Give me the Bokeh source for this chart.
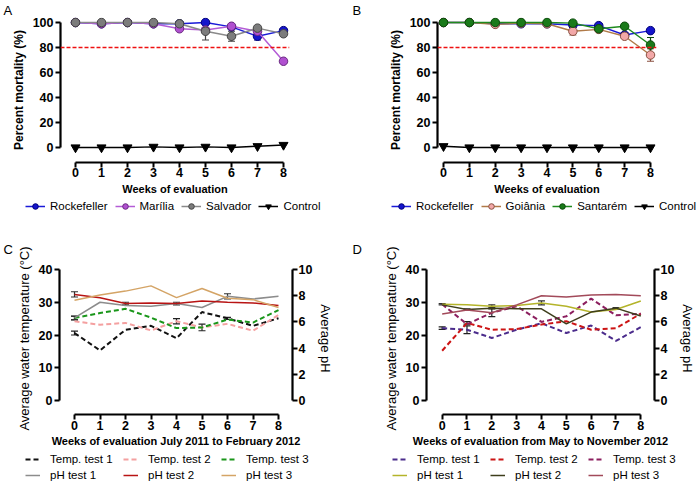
from bokeh.plotting import figure
from bokeh.models import (ColumnDataSource, Whisker, TeeHead, Span, Legend, LegendItem,
                          LinearAxis, Range1d, FixedTicker, Title)
from bokeh.layouts import row, column
from bokeh.embed import file_html
from bokeh.resources import INLINE

FONT = "Liberation Sans"

# ---------------- data ----------------
weeks = [0, 1, 2, 3, 4, 5, 6, 7, 8]

# Panel A
rock_A = [100, 99, 100, 99, 99, 100, 96.5, 89, 93.5]
rock_A_err = [0, 0, 0, 0, 0, 0, 0, 3, 1]
mar_A = [100, 99, 100, 99, 95, 94, 97, 93, 69]
mar_A_err = [0, 0, 0, 0, 0, 0, 0, 0, 0]
sal_A = [100, 100, 100, 100, 99, 93, 89, 95.5, 91]
sal_A_err = [0, 0, 0, 0, 0, 7, 4, 0, 2]
ctl_A = [0, 0, 0, 0.5, 0, 0.5, 0, 1, 2]

# Panel B
rock_B = [100, 100, 99, 99, 99, 98, 97.5, 90, 93.5]
rock_B_err = [0, 0, 0, 0, 0, 0, 0, 2, 0]
goi_B = [100, 100, 98.5, 99.5, 99, 93, 94.5, 89, 74]
goi_B_err = [0, 0, 0, 0, 0, 3, 0, 1, 5]
san_B = [100, 100, 100, 100, 100, 99.5, 95, 97, 82]
san_B_err = [0, 0, 0, 0, 0, 0, 0, 0, 6]
ctl_B = [1, 0, 0, 0, 0, 0, 0, 0, 0]

# Panel C (temperature in °C, pH)
t1_C = [20.6, 15.3, 21.6, 22.8, 19.0, 27.0, 25.1, 22.8, 25.1]
t1_C_err = [0.6, 0, 0, 0, 0, 0, 0.3, 0, 0]
t2_C = [24.2, 23.1, 23.7, 21.4, 24.2, 22.3, 23.4, 21.3, 26.1]
t2_C_err = [0, 0, 0, 0, 0.8, 0, 0, 0, 0]
t3_C = [25.2, 26.7, 28.0, 25.3, 22.1, 22.3, 24.7, 23.8, 27.6]
t3_C_err = [0.6, 0, 0, 0, 0, 1.0, 0, 0, 0]
ph1_C = [6.3, 7.5, 7.25, 7.2, 7.4, 7.1, 7.95, 7.75, 7.95]
ph1_C_err = [0.12, 0, 0, 0, 0.1, 0, 0.2, 0, 0]
ph2_C = [8.1, 7.85, 7.4, 7.45, 7.4, 7.6, 7.5, 7.45, 7.25]
ph2_C_err = [0.2, 0, 0.1, 0, 0, 0, 0, 0, 0]
ph3_C = [7.65, 8.05, 8.35, 8.75, 7.85, 8.55, 7.8, 7.7, 7.1]
ph3_C_err = [0, 0, 0, 0, 0, 0, 0, 0, 0]

# Panel D
t1_D = [22.1, 21.6, 19.1, 21.6, 23.6, 20.6, 22.9, 18.2, 22.4]
t1_D_err = [0.4, 1.2, 0, 0, 0, 0, 0, 0, 0]
t2_D = [15.2, 23.7, 21.6, 21.8, 23.2, 24.2, 21.6, 22.1, 26.5]
t2_D_err = [0, 0.4, 0, 0, 0, 0, 0, 0, 0]
t3_D = [29.4, 23.3, 26.8, 28.8, 24.0, 25.7, 31.1, 26.0, 26.5]
t3_D_err = [0, 0, 1.2, 0, 0, 0, 0, 0, 0]
ph1_D = [7.35, 7.3, 7.2, 7.25, 7.45, 7.2, 6.75, 6.95, 7.6]
ph1_D_err = [0.05, 0, 0.1, 0, 0.15, 0, 0, 0, 0]
ph2_D = [7.3, 6.95, 7.05, 7.0, 7.0, 5.85, 6.75, 7.05, 6.45]
ph2_D_err = [0, 0.05, 0, 0, 0, 0, 0, 0.05, 0]
ph3_D = [6.6, 6.9, 6.7, 7.3, 8.0, 7.9, 8.05, 8.1, 8.0]
ph3_D_err = [0, 0, 0, 0, 0, 0, 0, 0, 0]

mort_ticks = [0, 20, 40, 60, 80, 100]
temp_ticks = [0, 10, 20, 30, 40]
ph_ticks = [0, 2, 4, 6, 8, 10]
threshold = 80


# ---------------- helpers ----------------
def base_fig(width, height, fl, fr, ft, fb, xr, yr):
    p = figure(width=width, height=height, x_range=Range1d(*xr), y_range=Range1d(*yr),
               output_backend="svg", toolbar_location=None, title=None,
               min_border_left=fl, min_border_right=width - fr,
               min_border_top=ft, min_border_bottom=height - fb)
    p.outline_line_color = None
    p.xgrid.visible = False
    p.ygrid.visible = False
    p.background_fill_color = "white"
    p.border_fill_color = "white"
    return p


def legend_fig(width, height):
    # a bare canvas holding only the legend; its ranges lie far from the data,
    # so the proxy renderers (drawn from the real series) stay out of view
    p = figure(width=width, height=height, x_range=Range1d(1000, 1001),
               y_range=Range1d(1000, 1001),
               output_backend="svg", toolbar_location=None, title=None,
               x_axis_type=None, y_axis_type=None, min_border=0,
               min_border_left=0, min_border_right=0, min_border_top=0,
               min_border_bottom=0)
    p.outline_line_color = None
    p.xgrid.visible = False
    p.ygrid.visible = False
    p.background_fill_color = "white"
    p.border_fill_color = "white"
    return p


def style_axis(ax, bounds, ticks, label, bold, size, lstand, tstand):
    ax.bounds = bounds
    ax.ticker = FixedTicker(ticks=ticks)
    ax.axis_line_width = 2.2
    ax.axis_line_color = "black"
    ax.major_tick_line_width = 2
    ax.major_tick_line_color = "black"
    ax.major_tick_out = 5
    ax.major_tick_in = 0
    ax.minor_tick_line_color = None
    ax.major_label_text_font = FONT
    ax.major_label_text_font_style = "bold"
    ax.major_label_text_font_size = "12.5px"
    ax.major_label_text_color = "black"
    ax.major_label_standoff = lstand
    ax.axis_label = label
    ax.axis_label_text_font = FONT
    ax.axis_label_text_font_style = "bold" if bold else "normal"
    ax.axis_label_text_font_size = size
    ax.axis_label_text_color = "black"
    ax.axis_label_standoff = tstand


def err_whisker(p, x, y, err, color, yname="default"):
    xs = [a for a, e in zip(x, err) if e > 0]
    up = [b + e for b, e in zip(y, err) if e > 0]
    lo = [b - e for b, e in zip(y, err) if e > 0]
    if not xs:
        return
    src = ColumnDataSource(dict(x=xs, upper=up, lower=lo))
    w = Whisker(base="x", upper="upper", lower="lower", source=src, line_color=color,
                line_width=1.2,
                upper_head=TeeHead(size=7, line_color=color, line_width=1.2),
                lower_head=TeeHead(size=7, line_color=color, line_width=1.2),
                y_range_name=yname)
    p.add_layout(w)


def plain_legend(items, loc, glyph_width=20, spacing=7, ncols=None, standoff=5,
                 label_width=20):
    kw = {}
    if ncols:
        kw["ncols"] = ncols
    return Legend(items=items, location=loc, orientation="horizontal",
                  label_text_font=FONT, label_text_font_size="11.5px",
                  label_text_color="black",
                  glyph_width=glyph_width, glyph_height=14, label_height=14,
                  label_width=label_width,
                  label_standoff=standoff, spacing=spacing, padding=0, margin=0,
                  border_line_alpha=0, background_fill_alpha=0, **kw)


def panel_letter(p, text, offset, standoff):
    p.add_layout(Title(text=text, align="left", offset=offset, standoff=standoff,
                       text_font=FONT, text_font_size="13px", text_font_style="normal",
                       text_color="black"), "above")


def x_range_px(fl, x0, x8, fr):
    u = (x8 - x0) / 8.0
    return (-(x0 - fl) / u, 8 + (fr - x8) / u)


def y_range_px(ft, fb, ytop_px, y0_px, top_val):
    u = (y0_px - ytop_px) / top_val
    return (-(fb - y0_px) / u, top_val + (ytop_px - ft) / u)


# ---------------- mortality panels ----------------
def mortality_panel(width, fl, x0, x8, fr, series, ctl, letter, leg_x):
    H = 198
    ft, fb = 17, 162
    xr = x_range_px(fl, x0, x8, fr)
    yr = y_range_px(ft, fb, 22, 147, 100)
    p = base_fig(width, H, fl, fr, ft, fb, xr, yr)
    style_axis(p.yaxis[0], (0, 100), mort_ticks, "Percent mortality (%)", True, "12px", 2, 4)
    style_axis(p.xaxis[0], (0, 8), weeks, "Weeks of evaluation", True, "11px", 0, 3)
    p.add_layout(Span(location=threshold, dimension="width", line_color="#ee1111",
                      line_dash="4 2", line_width=1.3))
    lf = legend_fig(width, 28)
    items = []
    for name, vals, err, lcol, fcol, ecol in series:
        p.line(weeks, vals, line_color=lcol, line_width=1.5)
        err_whisker(p, weeks, vals, err, ecol)
        p.scatter(weeks, vals, marker="circle", size=8.5, fill_color=fcol,
                  line_color=ecol, line_width=1)
        lr = lf.line(weeks, vals, line_color=lcol, line_width=1.5)
        sr = lf.scatter(weeks, vals, marker="circle", size=8.5, fill_color=fcol,
                        line_color=ecol, line_width=1)
        items.append(LegendItem(label=name, renderers=[lr, sr]))
    p.line(weeks, ctl, line_color="black", line_width=1.5)
    p.scatter(weeks, ctl, marker="inverted_triangle", size=9, fill_color="black",
              line_color="black")
    lr = lf.line(weeks, ctl, line_color="black", line_width=1.5)
    sr = lf.scatter(weeks, ctl, marker="inverted_triangle", size=9, fill_color="black",
                    line_color="black")
    items.append(LegendItem(label="Control", renderers=[lr, sr]))
    lf.add_layout(plain_legend(items, (leg_x, 13)))
    panel_letter(p, letter, 3 - fl, 0)
    return column(p, row(lf))


pA = mortality_panel(
    349, 60, 75, 283, 289,
    [("Rockefeller", rock_A, rock_A_err, "#1a1ad8", "#1515cc", "#00007a"),
     ("Marília", mar_A, mar_A_err, "#b45cd6", "#b050d0", "#6a2a80"),
     ("Salvador", sal_A, sal_A_err, "#8a8a8a", "#7c7c7c", "#444444")],
    ctl_A, "A", 25)

pB = mortality_panel(
    349, 88, 94, 301, 307,
    [("Rockefeller", rock_B, rock_B_err, "#1a1ad8", "#1515cc", "#00007a"),
     ("Goiânia", goi_B, goi_B_err, "#b07a48", "#f2a8a8", "#8a5040"),
     ("Santarém", san_B, san_B_err, "#1f8a1f", "#1a7a1a", "#0a4a0a")],
    ctl_B, "B", 42)


# ---------------- temperature / pH panels ----------------
def env_panel(width, fl, x0, x8, fr, temps, phs, xtitle, letter, leg_x):
    H = 226
    ft, fb = 36, 188
    xr = x_range_px(fl, x0, x8, fr)
    yr = y_range_px(ft, fb, 43, 174, 40)
    p = base_fig(width, H, fl, fr, ft, fb, xr, yr)
    p.extra_y_ranges = {"ph": Range1d(yr[0] / 4.0, yr[1] / 4.0)}
    style_axis(p.yaxis[0], (0, 40), temp_ticks, "Average water temperature (°C)", False,
               "13px", 2, 4)
    style_axis(p.xaxis[0], (0, 8), weeks, xtitle, True, "11px", 1, 2)
    rax = LinearAxis(y_range_name="ph")
    style_axis(rax, (0, 10), ph_ticks, "Average pH", False, "13px", 1, 3)
    p.add_layout(rax, "right")
    lf = legend_fig(width, 30)
    items = []
    for name, vals, err, col in temps:
        p.line(weeks, vals, line_color=col, line_width=2, line_dash="5 3")
        err_whisker(p, weeks, vals, err, "#222222")
        r = lf.line(weeks, vals, line_color=col, line_width=2, line_dash="5 3")
        items.append(LegendItem(label=name, renderers=[r]))
    for name, vals, err, col in phs:
        p.line(weeks, vals, line_color=col, line_width=1.5, y_range_name="ph")
        err_whisker(p, weeks, vals, err, "#333333", yname="ph")
        r = lf.line(weeks, vals, line_color=col, line_width=1.5)
        items.append(LegendItem(label=name, renderers=[r]))
    lf.add_layout(plain_legend(items, (leg_x, 0), ncols=3, glyph_width=15, spacing=2,
                               standoff=10, label_width=71))
    panel_letter(p, letter, 3 - fl, 11)
    return column(p, row(lf))


pC = env_panel(
    349, 59, 74, 278, 292,
    [("Temp. test 1", t1_C, t1_C_err, "#111111"),
     ("Temp. test 2", t2_C, t2_C_err, "#f4a0a0"),
     ("Temp. test 3", t3_C, t3_C_err, "#1a961a")],
    [("pH test 1", ph1_C, ph1_C_err, "#8c8c8c"),
     ("pH test 2", ph2_C, ph2_C_err, "#b81414"),
     ("pH test 3", ph3_C, ph3_C_err, "#d4a466")],
    "Weeks of evaluation July 2011 to February 2012", "C", 25)

pD = env_panel(
    349, 77, 93, 296, 310,
    [("Temp. test 1", t1_D, t1_D_err, "#4b2c8c"),
     ("Temp. test 2", t2_D, t2_D_err, "#cc1414"),
     ("Temp. test 3", t3_D, t3_D_err, "#8c1f5f")],
    [("pH test 1", ph1_D, ph1_D_err, "#b4b42a"),
     ("pH test 2", ph2_D, ph2_D_err, "#3e3e1c"),
     ("pH test 3", ph3_D, ph3_D_err, "#a24a5a")],
    "Weeks of evaluation from May to November 2012", "D", 43)

layout = column(row(pA, pB), row(pC, pD))

with open("out.html", "w") as f:
    f.write(file_html(layout, INLINE))
